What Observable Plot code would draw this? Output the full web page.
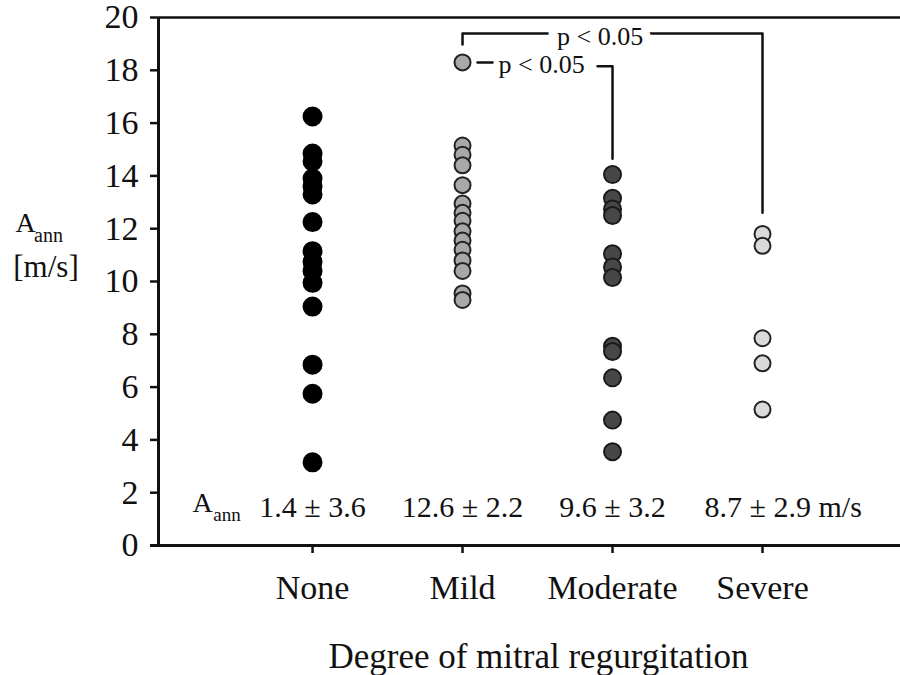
<!DOCTYPE html>
<html>
<head>
<meta charset="utf-8">
<script src="https://cdn.jsdelivr.net/npm/d3@7"></script>
<script src="https://cdn.jsdelivr.net/npm/@observablehq/plot@0.6"></script>
<style>
  html, body { margin: 0; padding: 0; background: #fff; }
  #chart { width: 900px; height: 675px; }
</style>
</head>
<body>
<div id="chart"></div>
<script>
const categories = ["None", "Mild", "Moderate", "Severe"];
const noneValues = [16.25, 14.85, 14.55, 13.9, 13.6, 13.3, 12.25, 11.15, 10.75, 10.4, 9.95, 9.05, 6.85, 5.75, 3.15];
const mildValues = [18.3, 15.15, 14.8, 14.4, 13.65, 12.95, 12.6, 12.3, 11.9, 11.55, 11.2, 10.8, 10.4, 9.55, 9.3];
const moderateValues = [14.05, 13.15, 12.75, 12.5, 11.05, 10.55, 10.15, 7.55, 7.35, 6.35, 4.75, 3.55];
const severeValues = [11.8, 11.35, 7.85, 6.9, 5.15];
const statLabels = ["1.4 ± 3.6", "12.6 ± 2.2", "9.6 ± 3.2", "8.7 ± 2.9 m/s"];
const yTicks = [0, 2, 4, 6, 8, 10, 12, 14, 16, 18, 20];
const pLabel = "p < 0.05";
const yLabelLines = ["A", "ann", "[m/s]"];
const xTitle = "Degree of mitral regurgitation";

const groups = [
  {values: noneValues, fill: "#000000", stroke: "#000000", r: 9},
  {values: mildValues, fill: "#a8a8a8", stroke: "#222222", r: 8},
  {values: moderateValues, fill: "#474747", stroke: "#1a1a1a", r: 8.5},
  {values: severeValues, fill: "#dadada", stroke: "#222222", r: 8}
];
const pts = groups.map((g, i) => g.values.map(v => ({i, v})));

const serif = "Liberation Serif, Times New Roman, serif";

// bracket geometry in data units (x = category index, y = value)
const upperBracket = [{x: 1, y: 18.98}, {x: 1, y: 19.39}, {x: 3, y: 19.39}, {x: 3, y: 12.6}];
const lowerDash = [{x: 1.1, y: 18.3}, {x: 1.2, y: 18.3}];
const lowerHook = [{x: 1.9, y: 18.15}, {x: 2.0, y: 18.15}, {x: 2.0, y: 14.65}];

const marks = [
  Plot.ruleY([20], {x1: -1.027, x2: 3.92, strokeWidth: 2.5, stroke: "#111"}),
  Plot.ruleY([0], {x1: -1.08, x2: 3.92, strokeWidth: 3, stroke: "#111"}),
  Plot.ruleX([-1.027], {y1: 0, y2: 20, strokeWidth: 3, stroke: "#111"}),
  Plot.axisY({ticks: yTicks, tickSize: 8, tickPadding: 12, strokeWidth: 2.5, fontSize: 34, fontFamily: serif, label: null, tickFormat: d => String(d)}),
  Plot.axisX({ticks: [0, 1, 2, 3], tickFormat: i => categories[i], tickSize: 8, tickPadding: 21, strokeWidth: 2.5, fontSize: 34, fontFamily: serif, label: null}),
  Plot.line(upperBracket, {x: "x", y: "y", stroke: "#111", strokeWidth: 2.5, curve: "linear"}),
  Plot.text([pLabel], {x: [1.917], y: [19.28], fontSize: 26, fontFamily: serif, fill: "#111", stroke: "white", strokeWidth: 18, paintOrder: "stroke"}),
  Plot.line(lowerDash, {x: "x", y: "y", stroke: "#111", strokeWidth: 2.5}),
  Plot.line(lowerHook, {x: "x", y: "y", stroke: "#111", strokeWidth: 2.5}),
  Plot.text([pLabel], {x: [1.527], y: [18.22], fontSize: 26, fontFamily: serif, fill: "#111"}),
  ...pts.map((p, k) => Plot.dot(p, {x: "i", y: "v", r: groups[k].r, fill: groups[k].fill, stroke: groups[k].stroke, strokeWidth: 2, fillOpacity: 1})),
  Plot.text(statLabels.slice(0, 3), {x: [0, 1, 2], y: [1.45, 1.45, 1.45], fontSize: 30, fontFamily: serif, fill: "#111"}),
  Plot.text(statLabels.slice(3), {x: [3], y: [1.45], dx: -58, textAnchor: "start", fontSize: 30, fontFamily: serif, fill: "#111"}),
  Plot.text([yLabelLines[0]], {x: [-0.733], y: [1.59], fontSize: 28, fontFamily: serif, fill: "#111"}),
  Plot.text([yLabelLines[1]], {x: [-0.57], y: [1.14], fontSize: 19, fontFamily: serif, fill: "#111"}),
  Plot.text([yLabelLines[0]], {x: [-1.913], y: [12.23], fontSize: 28, fontFamily: serif, fill: "#111"}),
  Plot.text([yLabelLines[1]], {x: [-1.76], y: [11.72], fontSize: 20, fontFamily: serif, fill: "#111"}),
  Plot.text([yLabelLines[2]], {x: [-1.777], y: [10.55], fontSize: 31, fontFamily: serif, fill: "#111"}),
  Plot.text([xTitle], {frameAnchor: "bottom", dx: 9, dy: 122, fontSize: 35, fontFamily: serif, fill: "#111"})
];

const chart = Plot.plot({
  width: 900,
  height: 675,
  marginLeft: 158,
  marginRight: 0,
  marginTop: 17,
  marginBottom: 130,
  style: {background: "white", fontFamily: serif, color: "#111", overflow: "visible"},
  x: {type: "linear", domain: [-1.027, 3.92], axis: null},
  y: {type: "linear", domain: [0, 20], axis: null},
  marks
});
document.getElementById("chart").appendChild(chart);
</script>
</body>
</html>
